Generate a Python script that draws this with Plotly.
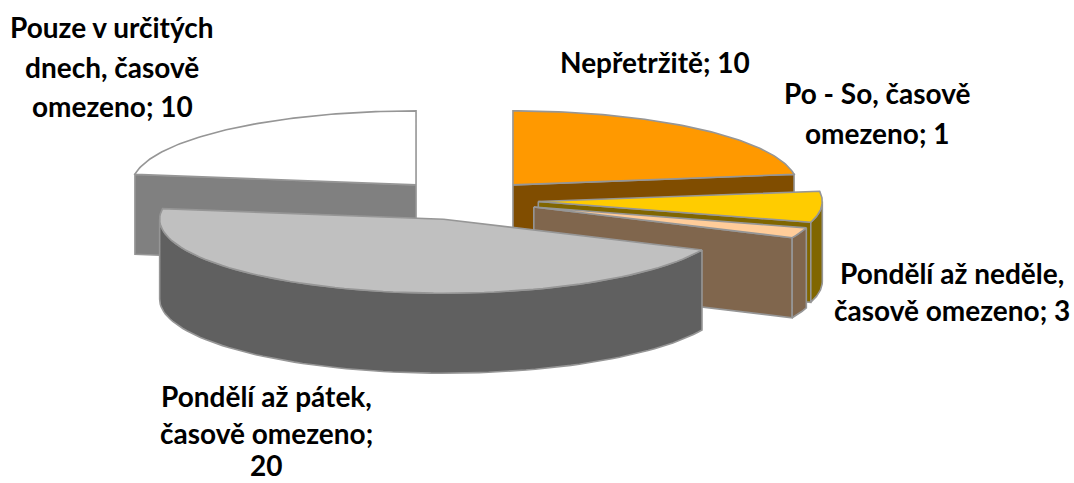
import math
import plotly.graph_objects as go

# Data
categories = ["Nepřetržitě", "Pondělí až neděle, časově omezeno", "Po - So, časově omezeno",
              "Pondělí až pátek, časově omezeno", "Pouze v určitých dnech, časově omezeno"]
values = [10, 3, 1, 20, 10]
top_colors = ["#FF9900", "#FFCC00", "#FFCC99", "#C0C0C0", "#FFFFFF"]
side_colors = ["#804D00", "#806600", "#80664D", "#606060", "#808080"]
draw_order = [4, 0, 1, 2, 3]
label_lines = [
    ["Nepřetržitě; 10"],
    ["Pondělí až neděle,", "časově omezeno; 3"],
    ["Po - So, časově", "omezeno; 1"],
    ["Pondělí až pátek,", "časově omezeno;", "20"],
    ["Pouze v určitých", "dnech, časově", "omezeno; 10"],
]
label_x = [655, 952, 877, 266, 112]
label_y = [[62], [273, 310], [93, 133], [396, 433, 465], [27, 67, 106]]

# Geometry of the projected pie (pixels)
W, H = 1074, 483
CX, CY = 464.5, 200
RX, RY = 284, 74
DEPTH = 80
EXPLODE_X, EXPLODE_Y = 74, 20
EDGE = "#969696"

fig = go.Figure()


def face(xs, ys, fill, width=1.6):
    fig.add_trace(go.Scatter(x=xs, y=ys, mode="lines", fill="toself", fillcolor=fill,
                             line=dict(color=EDGE, width=width), hoverinfo="skip",
                             showlegend=False))


def arc(a0, a1, n=80):
    return [a0 + (a1 - a0) * i / n for i in range(n + 1)]


total = sum(values)
starts = [360.0 * sum(values[:i]) / total for i in range(len(values))]
for i in draw_order:
    start = starts[i]
    end = start + 360.0 * values[i] / total
    top, side = top_colors[i], side_colors[i]
    mid = math.radians((start + end) / 2)
    cx = CX + EXPLODE_X * math.sin(mid)
    cy = CY - EXPLODE_Y * math.cos(mid)

    def px(a):
        return cx + RX * math.sin(math.radians(a))

    def py(a):
        return cy - RY * math.cos(math.radians(a))

    # radial cut faces that look towards the viewer
    for edge_angle, normal in ((start, start - 90), (end, end + 90)):
        if math.cos(math.radians(normal)) < -1e-6:
            face([cx, px(edge_angle), px(edge_angle), cx, cx],
                 [cy, py(edge_angle), py(edge_angle) + DEPTH, cy + DEPTH, cy], side)
    # outer curved wall, front half only
    a0, a1 = max(start, 90), min(end, 270)
    if a1 > a0:
        angles = arc(a0, a1)
        xs = [px(a) for a in angles]
        ys = [py(a) for a in angles]
        face(xs + xs[::-1] + xs[:1], ys + [y + DEPTH for y in ys[::-1]] + ys[:1], side)
    # top
    angles = arc(start, end)
    face([cx] + [px(a) for a in angles] + [cx], [cy] + [py(a) for a in angles] + [cy], top)

annotations = []
for lines, lx, lys in zip(label_lines, label_x, label_y):
    for line, ly in zip(lines, lys):
        annotations.append(dict(x=lx, y=ly, xref="x", yref="y", text=line, showarrow=False,
                                xanchor="center", yanchor="middle",
                                font=dict(family="Lato", size=28, color="#000000", weight="bold")))

fig.update_layout(
    width=W, height=H, margin=dict(l=0, r=0, t=0, b=0),
    paper_bgcolor="white", plot_bgcolor="white", showlegend=False,
    xaxis=dict(range=[0, W], visible=False, fixedrange=True),
    yaxis=dict(range=[H, 0], visible=False, fixedrange=True),
    annotations=annotations,
)
fig.write_html("out.html", config={"displayModeBar": False},
               post_script="document.body.style.margin='0';document.documentElement.style.overflow='hidden';")
